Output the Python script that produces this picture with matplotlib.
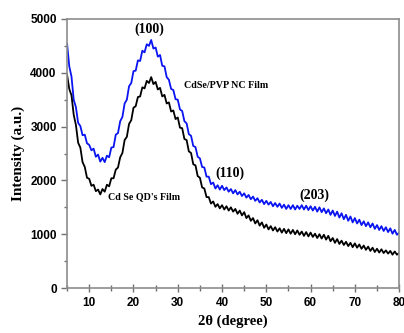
import matplotlib
matplotlib.use("Agg")
import matplotlib.pyplot as plt
import numpy as np

# 2-theta positions (degree), every half degree from 5 to 80
two_theta = np.arange(5, 80.25, 0.5)

# CdSe/PVP NC film (blue)
pvp_film = [
    4540, 4120, 3930, 3500, 3360, 3070, 3010, 2840, 2850, 2690,
    2660, 2560, 2590, 2440, 2480, 2350, 2420, 2340, 2460, 2430,
    2610, 2620, 2850, 2880, 3100, 3180, 3430, 3500, 3750, 3810,
    4030, 4040, 4230, 4220, 4410, 4380, 4530, 4500, 4610, 4450,
    4470, 4300, 4330, 4130, 4120, 3920, 3870, 3700, 3680, 3510,
    3500, 3320, 3290, 3100, 3060, 2860, 2830, 2640, 2620, 2440,
    2410, 2250, 2240, 2070, 2070, 1930, 1960, 1850, 1910, 1830,
    1900, 1820, 1870, 1790, 1840, 1760, 1820, 1740, 1790, 1710,
    1760, 1680, 1730, 1650, 1700, 1620, 1670, 1590, 1640, 1560,
    1620, 1550, 1600, 1520, 1580, 1510, 1570, 1490, 1550, 1470,
    1540, 1470, 1540, 1460, 1530, 1470, 1540, 1460, 1530, 1450,
    1520, 1440, 1510, 1420, 1500, 1410, 1480, 1390, 1460, 1360,
    1440, 1340, 1420, 1310, 1390, 1280, 1360, 1250, 1330, 1220,
    1300, 1200, 1270, 1170, 1240, 1150, 1220, 1130, 1200, 1100,
    1170, 1080, 1150, 1060, 1130, 1040, 1110, 1010, 1080, 990,
    1030,
]

# CdSe QD's film (black)
qd_film = [
    3960, 3700, 3580, 3220, 3030, 2700, 2610, 2340, 2250, 2050,
    2030, 1900, 1920, 1800, 1830, 1740, 1840, 1790, 1920, 1890,
    2040, 2040, 2200, 2240, 2430, 2510, 2750, 2810, 3050, 3120,
    3350, 3380, 3550, 3560, 3730, 3710, 3850, 3810, 3920, 3790,
    3830, 3690, 3720, 3560, 3590, 3430, 3450, 3280, 3300, 3140,
    3170, 2980, 2970, 2770, 2750, 2540, 2510, 2300, 2280, 2080,
    2050, 1870, 1850, 1690, 1690, 1570, 1610, 1510, 1560, 1480,
    1540, 1460, 1520, 1440, 1500, 1420, 1470, 1380, 1440, 1350,
    1410, 1300, 1350, 1250, 1300, 1200, 1260, 1160, 1220, 1120,
    1180, 1090, 1150, 1070, 1130, 1050, 1110, 1030, 1100, 1020,
    1090, 1010, 1080, 1000, 1070, 990, 1050, 970, 1040, 960,
    1030, 950, 1010, 930, 1000, 920, 990, 900, 970, 870,
    930, 840, 910, 820, 880, 800, 860, 780, 840, 760,
    830, 750, 810, 730, 790, 710, 770, 690, 750, 670,
    730, 660, 720, 650, 700, 640, 690, 620, 680, 620,
    650,
]

x_ticks = [10, 20, 30, 40, 50, 60, 70, 80]
y_ticks = [0, 1000, 2000, 3000, 4000, 5000]

serif = ["Liberation Serif", "DejaVu Serif"]
sans = ["Liberation Sans", "DejaVu Sans"]

fig = plt.figure(figsize=(4.04, 3.33), dpi=100)
ax = fig.add_axes([0.166, 0.135, 0.822, 0.808])

ax.plot(two_theta, pvp_film, color="#0a14f0", lw=1.3)
ax.plot(two_theta, qd_film, color="black", lw=1.3)

ax.set_xlim(5, 80)
ax.set_ylim(0, 5000)
ax.set_xticks(x_ticks)
ax.set_yticks(y_ticks)
ax.set_xticks(np.arange(5, 81, 5), minor=True)
ax.set_yticks(np.arange(500, 5000, 1000), minor=True)

for s in ax.spines.values():
    s.set_color("#8c8c8c")
    s.set_linewidth(1.2)
ax.tick_params(axis="both", which="both", colors="#707070", width=1)
ax.tick_params(axis="x", which="major", direction="inout", length=6)
ax.tick_params(axis="x", which="minor", direction="inout", length=4)
ax.tick_params(axis="y", which="major", direction="out", length=4)
ax.tick_params(axis="y", which="minor", direction="out", length=2.5)
for lab in ax.get_xticklabels() + ax.get_yticklabels():
    lab.set_family(sans)
    lab.set_fontweight("bold")
    lab.set_fontsize(8.5)
    lab.set_color("black")

ax.set_xlabel("2\u03b8 (degree)", family=serif, fontweight="bold", fontsize=10.5, labelpad=4)
ax.set_ylabel("Intensity (a.u.)", family=serif, fontweight="bold", fontsize=11, labelpad=4)

ax.text(23.5, 4800, "(100)", family=serif, fontweight="bold", fontsize=10, ha="center", va="center")
ax.text(31.5, 3770, "CdSe/PVP NC Film", family=serif, fontweight="bold", fontsize=7.2, ha="left", va="center")
ax.text(38.5, 2140, "(110)", family=serif, fontweight="bold", fontsize=10, ha="left", va="center")
ax.text(57.5, 1730, "(203)", family=serif, fontweight="bold", fontsize=10, ha="left", va="center")
ax.text(14.2, 1700, "Cd Se QD's Film", family=serif, fontweight="bold", fontsize=7.2, ha="left", va="center")

fig.savefig("out.png", dpi=100)
